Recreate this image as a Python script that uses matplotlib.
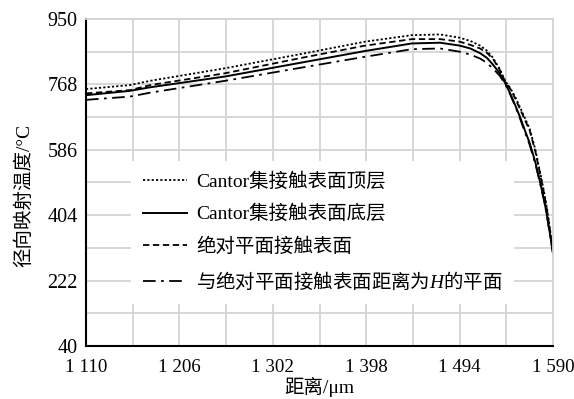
import numpy as np
import matplotlib
matplotlib.use("Agg")
import matplotlib.pyplot as plt
from matplotlib.ticker import FixedLocator

plt.rcParams['font.family'] = ['Liberation Serif', 'Noto Sans CJK SC']
plt.rcParams['mathtext.fontset'] = 'custom'
plt.rcParams['mathtext.rm'] = 'Noto Sans CJK SC'
plt.rcParams['mathtext.it'] = 'Liberation Serif:italic'

# ---- data ----
distance = [1110, 1155, 1176, 1253, 1330, 1397, 1445, 1474, 1494, 1505, 1515, 1522,
            1528, 1535, 1541, 1546, 1551, 1556, 1561, 1566, 1572, 1577, 1581, 1584,
            1587, 1590]
top_layer = [755, 766, 778, 813, 852, 887, 905, 907, 898, 889, 876, 862,
             843, 812, 777, 758, 734, 705, 675, 645, 585, 520, 466, 420,
             362, 300]
bottom_layer = [738, 750, 760, 790, 828, 861, 882, 884, 876, 868, 855, 842,
                824, 800, 771, 743, 711, 678, 641, 605, 550, 493, 445, 400,
                350, 299]
flat_surface = [743, 752, 766, 799, 841, 876, 894, 894, 887, 878, 868, 856,
                840, 810, 775, 756, 730, 700, 670, 640, 580, 515, 462, 415,
                360, 300]
plane_H = [725, 734, 745, 778, 814, 845, 866, 868, 859, 851, 840, 828,
           813, 793, 768, 740, 708, 674, 636, 600, 545, 490, 442, 398,
           348, 297]

labels = ['Cantor集接触表面顶层', 'Cantor集接触表面底层', '绝对平面接触表面',
          r'$\mathrm{与绝对平面接触表面距离为}\mathit{H}\mathrm{的平面}$']

xticks = [1110, 1206, 1302, 1398, 1494, 1590]
xticklabels = ['1 110', '1 206', '1 302', '1 398', '1 494', '1 590']
yticks = [40, 222, 404, 586, 768, 950]
yticklabels = ['40', '222', '404', '586', '768', '950']

# ---- figure ----
fig = plt.figure(figsize=(5.74, 3.99), dpi=100)
ax = fig.add_axes([86/574, 1-346/399, (553-86)/574, (346-19)/399])

ax.plot(distance, top_layer, color='black', lw=1.3, linestyle=(0, (1.2, 1.2)), label=labels[0])
ax.plot(distance, bottom_layer, color='black', lw=1.4, linestyle='-', label=labels[1])
ax.plot(distance, flat_surface, color='black', lw=1.3, linestyle=(0, (3.5, 2)), label=labels[2])
ax.plot(distance, plane_H, color='black', lw=1.3, linestyle=(0, (7, 3, 1.5, 3)), label=labels[3])

ax.set_xlim(1110, 1590)
ax.set_ylim(40, 950)
ax.set_xticks(xticks)
ax.set_xticklabels(xticklabels)
ax.set_yticks(yticks)
ax.set_yticklabels(yticklabels)
ax.xaxis.set_minor_locator(FixedLocator(np.arange(1110, 1591, 48)))
ax.yaxis.set_minor_locator(FixedLocator(np.arange(40, 951, 91)))
ax.set_axisbelow(True)
gridc = '#d4d4d4'
ax.grid(True, which='both', color=gridc, lw=1.3)
ax.tick_params(which='both', length=0)
ax.tick_params(axis='y', pad=6, labelsize=14.5)
ax.tick_params(axis='x', pad=9, labelsize=13.6)

for s in ['left', 'bottom']:
    ax.spines[s].set_color('black')
    ax.spines[s].set_linewidth(1.5)
for s in ['top', 'right']:
    ax.spines[s].set_color(gridc)
    ax.spines[s].set_linewidth(1.3)

ax.set_xlabel('距离/μm', fontsize=14, labelpad=1)
ax.set_ylabel('径向映射温度/°C', fontsize=14)
ax.yaxis.set_label_coords(-0.113, 0.46)

leg = ax.legend(loc='upper left', bbox_to_anchor=((131 - 86)/467, (346 - 161)/327),
                borderaxespad=0, frameon=True, fancybox=False, framealpha=1,
                edgecolor='none', facecolor='white', fontsize=14,
                handlelength=2.3, handletextpad=0.45, labelspacing=0.72,
                borderpad=0.6)

fig.savefig('out.png', dpi=100)
